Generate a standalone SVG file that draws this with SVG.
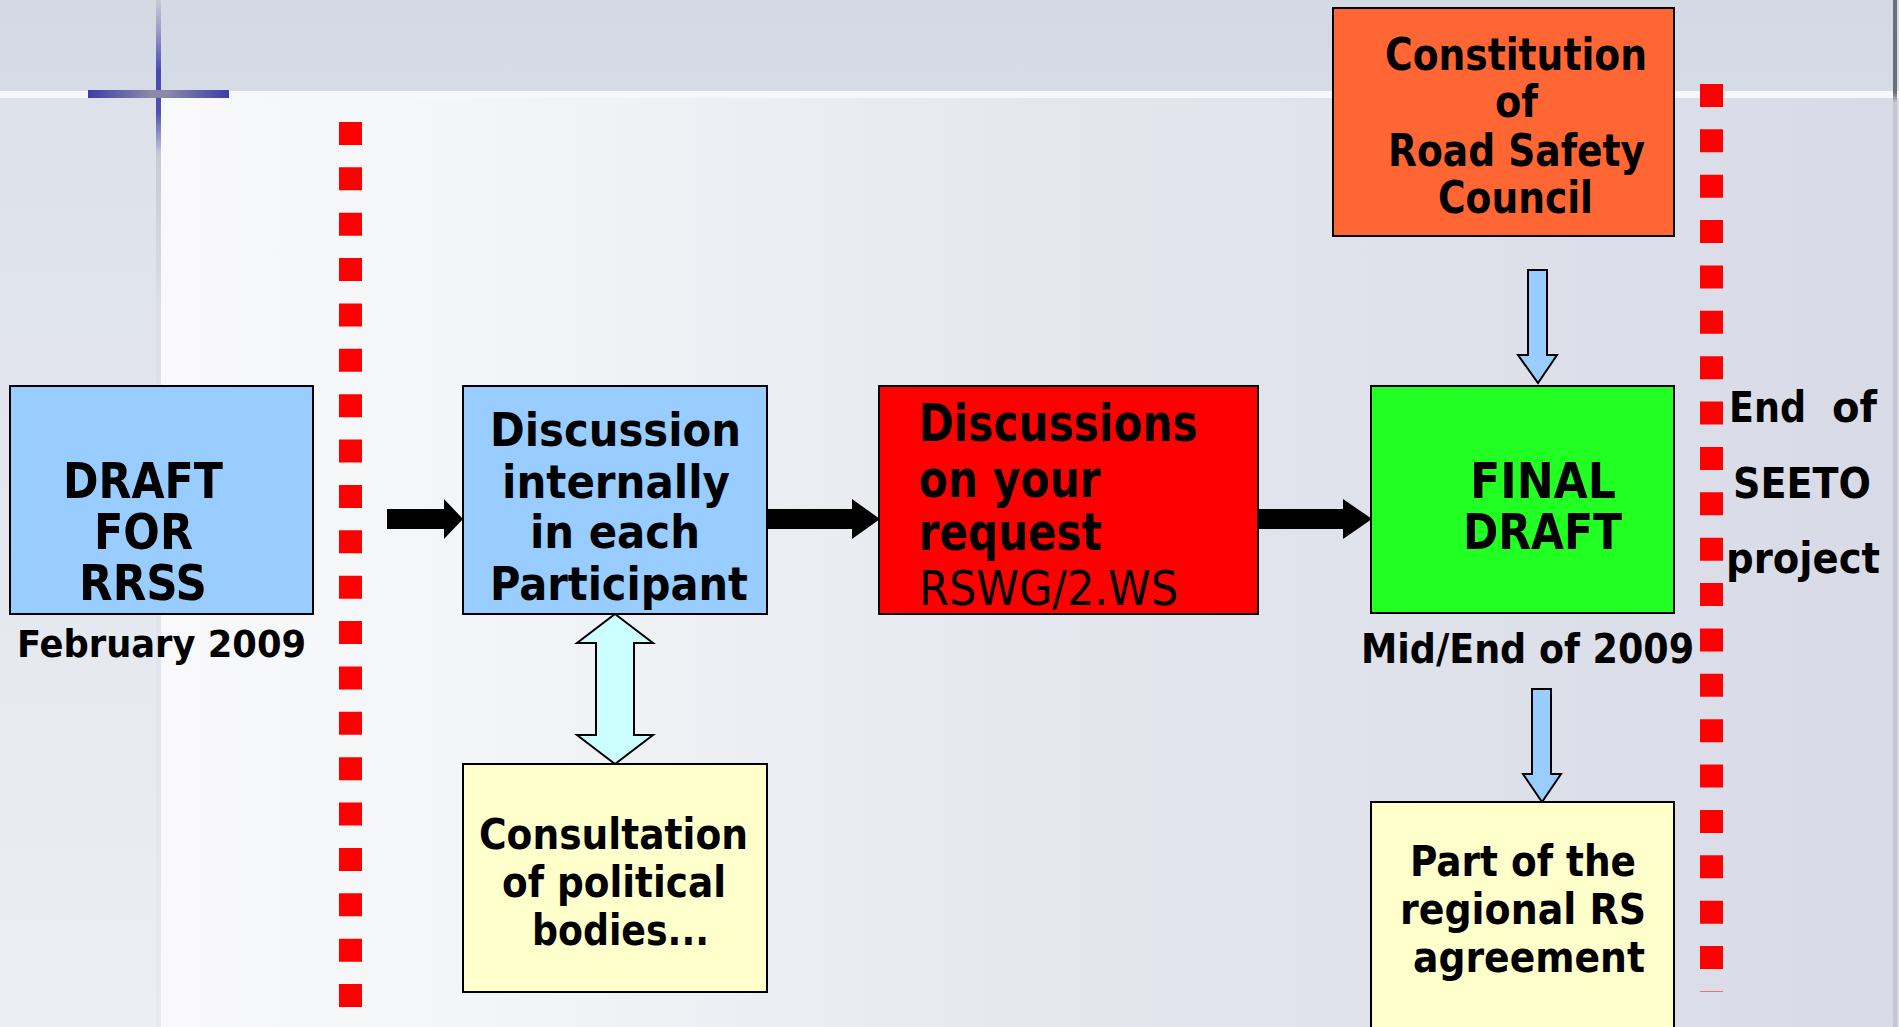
<svg xmlns="http://www.w3.org/2000/svg" width="1899" height="1027" viewBox="0 0 1899 1027">
<defs>
<linearGradient id="mainBg" x1="0" y1="0" x2="1" y2="0">
<stop offset="0" stop-color="#fbfbfc"/>
<stop offset="0.25" stop-color="#f4f5f8"/>
<stop offset="0.55" stop-color="#e4e7ee"/>
<stop offset="1" stop-color="#d8dbe6"/>
</linearGradient>
<linearGradient id="leftBg" x1="0" y1="0" x2="0" y2="1">
<stop offset="0" stop-color="#dde1ea"/>
<stop offset="1" stop-color="#eceef4"/>
</linearGradient>
<linearGradient id="topBg" x1="0" y1="0" x2="0" y2="1">
<stop offset="0" stop-color="#d4dae3"/>
<stop offset="1" stop-color="#d6dce6"/>
</linearGradient>
<linearGradient id="vline" gradientUnits="userSpaceOnUse" x1="0" y1="0" x2="0" y2="1027">
<stop offset="0" stop-color="#c9ccd6"/>
<stop offset="0.03" stop-color="#9a9ac8"/>
<stop offset="0.07" stop-color="#4848b0"/>
<stop offset="0.11" stop-color="#5252b2"/>
<stop offset="0.15" stop-color="#c8cbd6"/>
<stop offset="0.3" stop-color="#dcdfe6"/>
<stop offset="1" stop-color="#e8eaf0"/>
</linearGradient>
<linearGradient id="hbar" x1="0" y1="0" x2="1" y2="0">
<stop offset="0" stop-color="#3d3da8"/>
<stop offset="0.45" stop-color="#8a8aa8"/>
<stop offset="0.55" stop-color="#8a8aa8"/>
<stop offset="1" stop-color="#3d3da8"/>
</linearGradient>
<linearGradient id="rline" x1="0" y1="0" x2="0" y2="1">
<stop offset="0" stop-color="#6c6e7c"/>
<stop offset="0.09" stop-color="#6c6e7c"/>
<stop offset="0.1" stop-color="#c4c7d0"/>
<stop offset="1" stop-color="#c4c7d0"/>
</linearGradient>
<style>
.box{stroke:#000;stroke-width:2}
.t{font-family:"DejaVu Sans Condensed","DejaVu Sans",sans-serif;font-stretch:condensed;font-weight:bold;fill:#000}
.r{font-family:"DejaVu Sans Condensed","DejaVu Sans",sans-serif;font-stretch:condensed;font-weight:normal;fill:#000}
.blk{fill:#000}
.blu{fill:#99ccff;stroke:#000;stroke-width:2;stroke-linejoin:miter}
.cyan{fill:#ccffff;stroke:#000;stroke-width:2;stroke-linejoin:miter}
.dots{stroke:#ff0000;stroke-width:23;fill:none}
</style>
</defs>

<!-- background -->
<rect x="0" y="0" width="1899" height="1027" fill="url(#mainBg)"/>
<rect x="0" y="98" width="157" height="929" fill="url(#leftBg)"/>
<rect x="0" y="0" width="1899" height="91" fill="url(#topBg)"/>
<rect x="0" y="91" width="1899" height="7" fill="#f6f7fa"/>
<rect x="156" y="0" width="5" height="1027" fill="url(#vline)"/>
<rect x="88" y="90" width="141" height="8" fill="url(#hbar)"/>
<rect x="1893" y="0" width="4" height="1027" fill="url(#rline)"/>

<!-- dotted separators -->
<line class="dots" x1="350.5" y1="122" x2="350.5" y2="1007" stroke-dasharray="23 22.37"/>
<line class="dots" x1="1711.5" y1="84" x2="1711.5" y2="992" stroke-dasharray="23 22.37"/>

<!-- connectors -->
<g id="connectors">
<polygon class="blk" points="387,509 444,509 444,499 463,519 444,539 444,529 387,529"/>
<polygon class="blk" points="767,509 852,509 852,499 880,519 852,539 852,529 767,529"/>
<polygon class="blk" points="1258,509 1343,509 1343,499 1372,519 1343,539 1343,529 1258,529"/>
<polygon class="cyan" points="615,614 653,643 634,643 634,735 653,735 615,764 577,735 596,735 596,643 577,643"/>
<polygon class="blu" points="1528,270 1547,270 1547,355 1557,355 1538,383 1518,355 1528,355"/>
<polygon class="blu" points="1532,689 1551,689 1551,774 1561,774 1542,802 1523,774 1532,774"/>
</g>

<g id="draft">
<rect class="box" x="10" y="386" width="303" height="228" fill="#99ccff"/>
<text class="t" font-size="49" x="63" y="498" textLength="160" lengthAdjust="spacingAndGlyphs">DRAFT</text>
<text class="t" font-size="49" x="94" y="549" textLength="99" lengthAdjust="spacingAndGlyphs">FOR</text>
<text class="t" font-size="49" x="79" y="600" textLength="128" lengthAdjust="spacingAndGlyphs">RRSS</text>
</g>
<g id="feb">
<text class="t" font-size="37" x="17" y="657" textLength="289" lengthAdjust="spacingAndGlyphs">February 2009</text>
</g>

<g id="discussion">
<rect class="box" x="463" y="386" width="304" height="228" fill="#99ccff"/>
<text class="t" font-size="46" x="490" y="446" textLength="251" lengthAdjust="spacingAndGlyphs">Discussion</text>
<text class="t" font-size="46" x="502" y="498" textLength="228" lengthAdjust="spacingAndGlyphs">internally</text>
<text class="t" font-size="46" x="530" y="548" textLength="170" lengthAdjust="spacingAndGlyphs">in each</text>
<text class="t" font-size="46" x="490" y="600" textLength="258" lengthAdjust="spacingAndGlyphs">Participant</text>
</g>

<g id="request">
<rect class="box" x="879" y="386" width="379" height="228" fill="#ff0000"/>
<text class="t" font-size="51" x="919" y="441" textLength="279" lengthAdjust="spacingAndGlyphs">Discussions</text>
<text class="t" font-size="51" x="919" y="497" textLength="182" lengthAdjust="spacingAndGlyphs">on your</text>
<text class="t" font-size="51" x="919" y="550" textLength="183" lengthAdjust="spacingAndGlyphs">request</text>
<text class="r" font-size="48" x="919" y="605" textLength="259" lengthAdjust="spacingAndGlyphs">RSWG/2.WS</text>
</g>

<g id="final">
<rect class="box" x="1371" y="386" width="303" height="227" fill="#22ff22"/>
<text class="t" font-size="49" x="1470" y="498" textLength="146" lengthAdjust="spacingAndGlyphs">FINAL</text>
<text class="t" font-size="49" x="1463" y="549" textLength="159" lengthAdjust="spacingAndGlyphs">DRAFT</text>
</g>
<g id="midend">
<text class="t" font-size="40" x="1361" y="663" textLength="333" lengthAdjust="spacingAndGlyphs">Mid/End of 2009</text>
</g>

<g id="council">
<rect class="box" x="1333" y="8" width="341" height="228" fill="#ff6633"/>
<text class="t" font-size="45" x="1385" y="70" textLength="262" lengthAdjust="spacingAndGlyphs">Constitution</text>
<text class="t" font-size="45" x="1495" y="117" textLength="43" lengthAdjust="spacingAndGlyphs">of</text>
<text class="t" font-size="45" x="1388" y="166" textLength="257" lengthAdjust="spacingAndGlyphs">Road Safety</text>
<text class="t" font-size="45" x="1438" y="213" textLength="155" lengthAdjust="spacingAndGlyphs">Council</text>
</g>

<g id="consultation">
<rect class="box" x="463" y="764" width="304" height="228" fill="#ffffcc"/>
<text class="t" font-size="43" x="479" y="849" textLength="269" lengthAdjust="spacingAndGlyphs">Consultation</text>
<text class="t" font-size="43" x="502" y="897" textLength="224" lengthAdjust="spacingAndGlyphs">of political</text>
<text class="t" font-size="43" x="532" y="945" textLength="177" lengthAdjust="spacingAndGlyphs">bodies...</text>
</g>

<g id="agreement">
<rect class="box" x="1371" y="802" width="303" height="240" fill="#ffffcc"/>
<text class="t" font-size="43" x="1410" y="876" textLength="226" lengthAdjust="spacingAndGlyphs">Part of the</text>
<text class="t" font-size="43" x="1400" y="924" textLength="246" lengthAdjust="spacingAndGlyphs">regional RS</text>
<text class="t" font-size="43" x="1413" y="972" textLength="232" lengthAdjust="spacingAndGlyphs">agreement</text>
</g>

<g id="endseeto">
<text class="t" font-size="43" x="1729" y="422" textLength="77" lengthAdjust="spacingAndGlyphs">End</text>
<text class="t" font-size="43" x="1832" y="422" textLength="45" lengthAdjust="spacingAndGlyphs">of</text>
<text class="t" font-size="43" x="1733" y="498" textLength="138" lengthAdjust="spacingAndGlyphs">SEETO</text>
<text class="t" font-size="43" x="1726" y="573" textLength="154" lengthAdjust="spacingAndGlyphs">project</text>
</g>
</svg>
